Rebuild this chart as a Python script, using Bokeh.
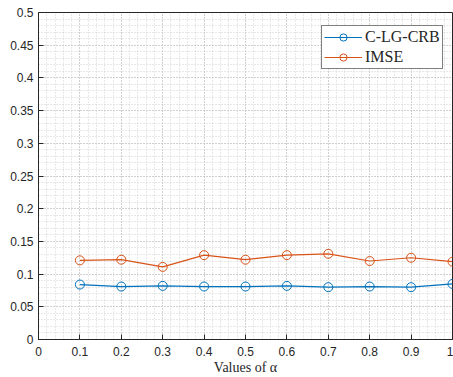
from bokeh.plotting import figure
from bokeh.models import Range1d, FixedTicker, Legend, LegendItem
from bokeh.embed import file_html
from bokeh.resources import INLINE

alpha = [0.1, 0.2, 0.3, 0.4, 0.5, 0.6, 0.7, 0.8, 0.9, 1.0]
clgcrb = [0.084, 0.081, 0.082, 0.081, 0.081, 0.082, 0.080, 0.081, 0.080, 0.085]
imse = [0.121, 0.122, 0.111, 0.129, 0.122, 0.129, 0.131, 0.120, 0.125, 0.119]
xticks = [0, 0.1, 0.2, 0.3, 0.4, 0.5, 0.6, 0.7, 0.8, 0.9, 1]
yticks = [0, 0.05, 0.1, 0.15, 0.2, 0.25, 0.3, 0.35, 0.4, 0.45, 0.5]
xminor = [i / 50 for i in range(51)]
yminor = [i / 100 for i in range(51)]

BLUE = "#0072BD"
ORANGE = "#D95319"
AX = "#262626"

p = figure(width=453, height=377, output_backend="svg", toolbar_location=None,
           x_range=Range1d(0, 1), y_range=Range1d(0, 0.5),
           min_border_left=38, min_border_top=12, min_border_right=1, min_border_bottom=38)
p.outline_line_color = AX
p.outline_line_width = 1

def style_axis(ax, standoff):
    ax.axis_line_color = AX
    ax.major_tick_line_color = AX
    ax.major_tick_in = 5
    ax.major_tick_out = 0
    ax.minor_tick_in = 0
    ax.minor_tick_out = 0
    ax.major_label_text_font = "Liberation Sans"
    ax.major_label_text_font_size = "12px"
    ax.major_label_text_color = AX
    ax.major_label_standoff = standoff

p.xaxis.ticker = FixedTicker(ticks=xticks, minor_ticks=xminor)
p.yaxis.ticker = FixedTicker(ticks=yticks, minor_ticks=yminor)
p.xaxis.major_label_overrides = {0: "0", 1: "1"}
p.yaxis.major_label_overrides = {0: "0", 0.1: "0.1", 0.2: "0.2", 0.3: "0.3", 0.4: "0.4", 0.5: "0.5"}
style_axis(p.xaxis[0], 7)
style_axis(p.yaxis[0], 5)
p.xaxis.axis_label = "Values of α"
p.xaxis.axis_label_text_font = "Liberation Serif"
p.xaxis.axis_label_text_font_style = "normal"
p.xaxis.axis_label_text_font_size = "14px"
p.xaxis.axis_label_text_color = AX
p.xaxis.axis_label_standoff = 1

for g in (p.xgrid[0], p.ygrid[0]):
    g.grid_line_color = "#b8b8b8"
    g.grid_line_dash = "1 2"
    g.grid_line_width = 1
    g.minor_grid_line_color = "#d0d0d0"
    g.minor_grid_line_dash = "1 2"
    g.minor_grid_line_width = 1

l1 = p.line(alpha, clgcrb, line_color=BLUE, line_width=1.2)
s1 = p.scatter(alpha, clgcrb, marker="circle", size=9, fill_color=None, line_color=BLUE, line_width=1)
l2 = p.line(alpha, imse, line_color=ORANGE, line_width=1.2)
s2 = p.scatter(alpha, imse, marker="circle", size=9, fill_color=None, line_color=ORANGE, line_width=1)

legend = Legend(items=[LegendItem(label="C-LG-CRB", renderers=[l1, s1]),
                       LegendItem(label="IMSE", renderers=[l2, s2])],
                location=(283, 270))
legend.label_text_font = "Liberation Serif"
legend.label_text_font_size = "16px"
legend.label_text_color = AX
legend.border_line_color = "black"
legend.border_line_width = 1
legend.glyph_width = 38
legend.glyph_height = 18
legend.label_standoff = 3
legend.label_height = 18
legend.spacing = 2
legend.padding = 2
legend.margin = 0
legend.background_fill_alpha = 1
p.add_layout(legend, "center")

open("out.html", "w").write(file_html(p, INLINE))
